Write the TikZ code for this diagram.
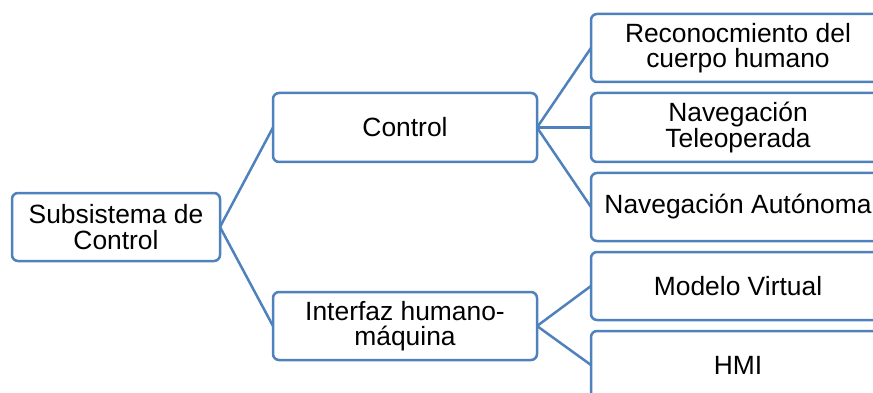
\documentclass[tikz,border=0pt]{standalone}
\usepackage{fontspec}
\setmainfont{Liberation Sans}
\definecolor{boxblue}{HTML}{4F81BD}
\begin{document}
\begin{tikzpicture}[x=1pt,y=-1pt,
  box/.style={draw=boxblue, line width=2.5pt, rounded corners=6pt, fill=white,
    inner sep=0pt, outer sep=0pt, align=center,
    font=\fontsize{26.4}{25.5}\selectfont},
  link/.style={draw=boxblue, line width=2.5pt}]
\useasboundingbox (0,0) rectangle (873,393);
\clip (0,0) rectangle (873,393);
% root
\node[box, minimum width=208pt, minimum height=68pt] (root) at (116,227) {Subsistema de\\Control};
% second level
\node[box, minimum width=264pt, minimum height=69pt] (ctrl) at (405,127.5) {Control};
\node[box, minimum width=264pt, minimum height=68pt] (hmi) at (405,326) {Interfaz humano-\\máquina};
% leaves
\node[box, minimum width=294pt, minimum height=68pt] (rec) at (738,48) {Reconocmiento del\\cuerpo humano};
\node[box, minimum width=294pt, minimum height=69pt] (tele) at (738,127.5) {Navegación\\Teleoperada};
\node[box, minimum width=294pt, minimum height=68pt] (auto) at (738,207) {Navegación Autónoma};
\node[box, minimum width=294pt, minimum height=68pt] (model) at (738,286) {Modelo Virtual};
\node[box, minimum width=294pt, minimum height=68pt] (hmibox) at (738,365) {HMI};
% connectors
\draw[link] (root.east) -- (ctrl.west);
\draw[link] (root.east) -- (hmi.west);
\draw[link] (ctrl.east) -- (rec.west);
\draw[link] (ctrl.east) -- (tele.west);
\draw[link] (ctrl.east) -- (auto.west);
\draw[link] (hmi.east) -- (model.west);
\draw[link] (hmi.east) -- (hmibox.west);
\end{tikzpicture}
\end{document}
